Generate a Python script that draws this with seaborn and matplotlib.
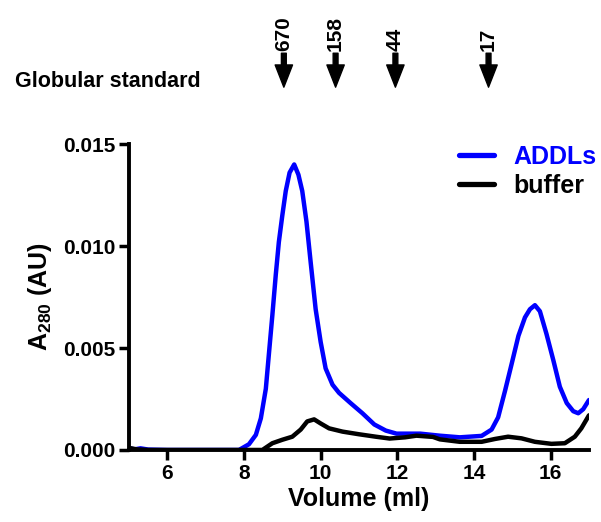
import matplotlib
matplotlib.use("Agg")
import matplotlib.pyplot as plt
import matplotlib.transforms as mtransforms
import pandas as pd
import seaborn as sns

# Elution volumes (ml) and absorbance readings for each trace
addl_volume = [5.0, 5.15, 5.3, 5.5, 6.0, 7.0, 7.87, 8.13, 8.31, 8.44, 8.57, 8.65,
               8.74, 8.83, 8.91, 9.0, 9.09, 9.19, 9.31, 9.42, 9.52, 9.63, 9.74,
               9.87, 10.0, 10.13, 10.31, 10.48, 10.78, 11.09, 11.4, 11.7, 11.98,
               12.6, 13.11, 13.63, 14.2, 14.46, 14.63, 14.81, 14.98, 15.16,
               15.33, 15.46, 15.59, 15.72, 15.89, 16.07, 16.24, 16.42, 16.59,
               16.72, 16.85, 17.0]
addl_a280 = [0.00008, 0.00003, 0.00008, 0.00002, 0.0, 0.0, 0.0, 0.00028, 0.00074,
             0.00155, 0.0030, 0.0047, 0.0066, 0.0086, 0.0102, 0.0115, 0.0127,
             0.0136, 0.0140, 0.0135, 0.0127, 0.0112, 0.0092, 0.0069, 0.0053,
             0.0040, 0.0032, 0.0028, 0.0023, 0.0018, 0.00125, 0.00095, 0.0008,
             0.0008, 0.0007, 0.00062, 0.00069, 0.0010, 0.0016, 0.0029, 0.0042,
             0.0056, 0.0065, 0.0069, 0.0071, 0.0068, 0.0057, 0.0044, 0.0031,
             0.0023, 0.0019, 0.0018, 0.0020, 0.00245]

buffer_volume = [5.0, 5.2, 5.5, 6.0, 7.0, 8.0, 8.48, 8.74, 9.0, 9.26, 9.48, 9.65,
                 9.83, 10.0, 10.22, 10.57, 11.0, 11.44, 11.8, 12.2, 12.5, 12.93,
                 13.11, 13.63, 14.2, 14.55, 14.89, 15.24, 15.59, 16.02, 16.37,
                 16.63, 16.8, 17.0]
buffer_a280 = [0.0001, 0.00003, 0.0, 0.0, 0.0, 0.0, 0.0, 0.00033, 0.0005,
               0.00065, 0.0010, 0.0014, 0.0015, 0.0013, 0.00106, 0.0009, 0.00077,
               0.00065, 0.00056, 0.00062, 0.0007, 0.00064, 0.00052, 0.0004,
               0.0004, 0.00054, 0.00065, 0.00057, 0.0004, 0.0003, 0.00033,
               0.00065, 0.00106, 0.0017]

series_names = ["ADDLs", "buffer"]
series_colors = ["#0000ff", "#000000"]

# Globular protein standards (kDa) and their elution volumes
standard_labels = ["670", "158", "44", "17"]
standard_volume = [9.04, 10.39, 11.95, 14.38]

x_ticks = [6, 8, 10, 12, 14, 16]
y_ticks = [0.000, 0.005, 0.010, 0.015]

df = pd.concat([
    pd.DataFrame({"Volume": addl_volume, "A280": addl_a280, "sample": series_names[0]}),
    pd.DataFrame({"Volume": buffer_volume, "A280": buffer_a280, "sample": series_names[1]}),
], ignore_index=True)

sns.set_style("ticks")
plt.rcParams["font.family"] = ["Liberation Sans", "DejaVu Sans"]
plt.rcParams["font.weight"] = "bold"
plt.rcParams["mathtext.fontset"] = "custom"
plt.rcParams["mathtext.bf"] = "Liberation Sans:bold"
plt.rcParams["mathtext.rm"] = "Liberation Sans:bold"
plt.rcParams["mathtext.default"] = "bf"
for key in ("text.color", "axes.labelcolor", "xtick.color", "ytick.color",
            "axes.edgecolor"):
    plt.rcParams[key] = "black"

fig = plt.figure(figsize=(6.01, 5.22), dpi=100)
ax = fig.add_axes([0.2146, 0.138, 0.7654, 0.586])

sns.lineplot(data=df, x="Volume", y="A280", hue="sample", hue_order=series_names,
             palette=dict(zip(series_names, series_colors)), linewidth=3.2,
             estimator=None, sort=False, ax=ax)
for ln in ax.lines:
    ln.set_solid_joinstyle("round")
    ln.set_solid_capstyle("round")

ax.set_xlim(5, 17)
ax.set_ylim(0, 0.015)
ax.set_xticks(x_ticks)
ax.set_yticks(y_ticks)
ax.set_yticklabels([f"{v:.3f}" for v in y_ticks])
ax.tick_params(axis="both", width=2.5, length=7, labelsize=15, pad=3, direction="out")
for lab in ax.get_xticklabels() + ax.get_yticklabels():
    lab.set_fontweight("bold")
sns.despine(ax=ax)
for side in ("left", "bottom"):
    ax.spines[side].set_linewidth(2.8)

ax.set_xlabel("Volume (ml)", fontsize=18, fontweight="bold", labelpad=3)
ax.set_ylabel(r"A$_{280}$ (AU)", fontsize=18, fontweight="bold", labelpad=6)

handles, labels = ax.get_legend_handles_labels()
leg = ax.legend(handles, labels, loc="upper right", bbox_to_anchor=(1.066, 1.072),
                frameon=False, fontsize=18, handlelength=1.4, handletextpad=0.8,
                labelspacing=0.2, labelcolor=series_colors)
for t in leg.get_texts():
    t.set_fontweight("bold")
for h in leg.get_lines():
    h.set_linewidth(3.8)

# Standard markers above the plot: x in data units, y in axes fraction
trans = mtransforms.blended_transform_factory(ax.transData, ax.transAxes)
for lab, vol in zip(standard_labels, standard_volume):
    ax.annotate("", xy=(vol, 1.186), xytext=(vol, 1.297), xycoords=trans,
                textcoords=trans, annotation_clip=False,
                arrowprops=dict(width=3.5, headwidth=12.5, headlength=16,
                                facecolor="black", edgecolor="black", shrink=0))
    ax.text(vol, 1.305, lab, transform=trans, rotation=90, ha="center",
            va="bottom", fontsize=15, fontweight="bold", clip_on=False)

fig.text(0.025, 1 - 87 / 522, "Globular standard", ha="left", va="baseline",
         fontsize=15.5, fontweight="bold")

fig.savefig("out.png", dpi=100)
